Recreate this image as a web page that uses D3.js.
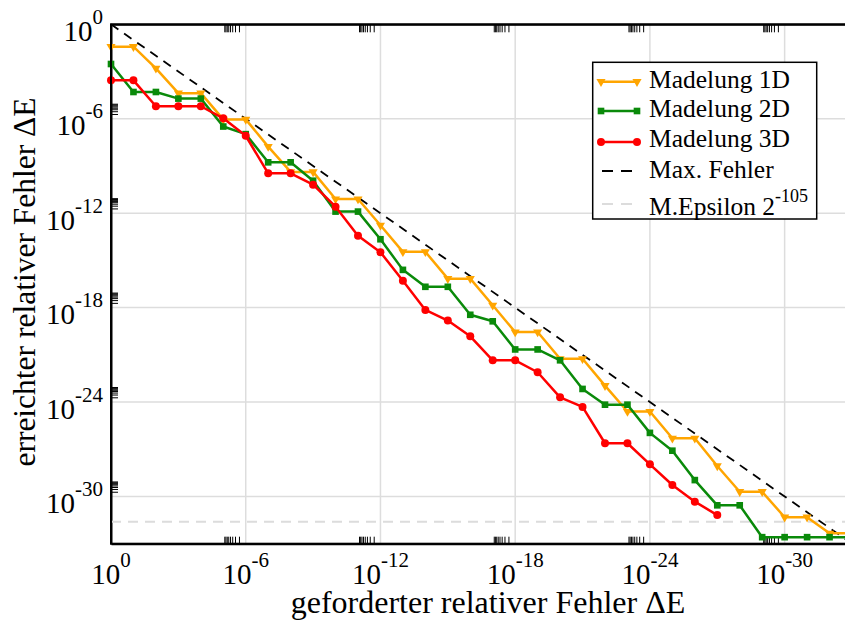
<!DOCTYPE html>
<html>
<head>
<meta charset="utf-8">
<script src="https://cdn.jsdelivr.net/npm/d3@7"></script>
<style>
  body { margin: 0; background: #fff; }
  svg { display: block; font-family: "Liberation Serif", "DejaVu Serif", serif; }
</style>
</head>
<body>
<svg id="chart" width="845" height="621"></svg>
<script>
// requested relative error: one point per decade, 10^0 ... 10^-33
var requested = d3.range(0, 34).map(function(i) { return Math.pow(10, -i); });

var madelung1D = [3.8e-2, 3.8e-2, 1.6e-3, 4.2e-5, 4.2e-5, 9.1e-7, 9.1e-7, 1.7e-8, 4.2e-10, 4.2e-10,
                  7.9e-12, 7.9e-12, 1.7e-13, 3.5e-15, 3.5e-15, 6.9e-17, 6.9e-17, 1.4e-18, 2.8e-20, 2.8e-20,
                  5.6e-22, 5.6e-22, 1.1e-23, 2.5e-25, 2.5e-25, 5.0e-27, 5.0e-27, 8.7e-29, 2.0e-30, 2.0e-30,
                  4.8e-32, 4.8e-32, 4.6e-33, 4.6e-33];
var madelung2D = [3.0e-3, 5.0e-5, 5.0e-5, 1.9e-5, 1.9e-5, 3.2e-7, 1.05e-7, 1.7e-9, 1.7e-9, 1.15e-10,
                  1.26e-12, 1.26e-12, 2.2e-14, 2.5e-16, 2.1e-17, 2.1e-17, 3.5e-19, 1.35e-19, 2.2e-21, 2.2e-21,
                  4.5e-22, 6.8e-24, 6.8e-25, 6.8e-25, 1.1e-26, 8.1e-28, 1.1e-29, 2.75e-31, 2.75e-31, 2.6e-33,
                  2.6e-33, 2.6e-33, 2.6e-33, 2.6e-33];
var madelung3D = [2.75e-4, 2.75e-4, 6.2e-6, 6.2e-6, 6.2e-6, 1.07e-6, 8.3e-8, 3.4e-10, 3.4e-10, 6.5e-11,
                  2.6e-12, 3.7e-14, 3.3e-15, 5.1e-17, 7.1e-19, 1.5e-19, 1.5e-20, 4.5e-22, 4.5e-22, 7.8e-23,
                  2.0e-24, 4.9e-25, 2.4e-27, 2.4e-27, 1.1e-28, 5.4e-30, 4.7e-31, 6.6e-32];

var majorExps = [0, -6, -12, -18, -24, -30];
var machineEps = Math.pow(2, -105);

var seriesNames = ["Madelung 1D", "Madelung 2D", "Madelung 3D"];
var seriesColors = ["#ffa500", "#0a8a0a", "#ff0000"];
var seriesSymbols = [d3.symbolTriangle, d3.symbolSquare, d3.symbolCircle];

var pLeft = 111, pTop = 24.3, pRight = 852, pBottom = 543.7;

var svg = d3.select("#chart");

var x = d3.scaleLog().domain([1, 1e-33]).range([pLeft, pRight]);
var y = d3.scaleLog().domain([1, 1e-33]).range([pTop, pBottom]);

var majors = majorExps.map(function(e) { return Math.pow(10, e); });
var minors = [];
majorExps.slice(1).forEach(function(e) {
    for (var k = 2; k <= 9; k++) minors.push(k * Math.pow(10, e));
});

// grid
var grid = svg.append("g").attr("class", "grid");
grid.selectAll("line.gx")
    .data(majors.slice(1))
    .enter().append("line")
    .attr("x1", function(d) { return x(d); })
    .attr("x2", function(d) { return x(d); })
    .attr("y1", pTop).attr("y2", pBottom)
    .attr("stroke", "#dddddd").attr("stroke-width", 1.5);
grid.selectAll("line.gy")
    .data(majors.slice(1))
    .enter().append("line")
    .attr("y1", function(d) { return y(d); })
    .attr("y2", function(d) { return y(d); })
    .attr("x1", pLeft).attr("x2", pRight)
    .attr("stroke", "#dddddd").attr("stroke-width", 1.5);

// minor ticks via d3 axes
function styleAxis(g) {
    g.select(".domain").attr("stroke", "#000").attr("stroke-width", 2);
    g.selectAll(".tick line").attr("stroke", "#000").attr("stroke-width", 1);
}
svg.append("g")
    .attr("transform", "translate(0," + pBottom + ")")
    .call(d3.axisBottom(x).tickValues(minors).tickSize(-7).tickSizeOuter(0).tickFormat(""))
    .call(styleAxis);
svg.append("g")
    .attr("transform", "translate(0," + pTop + ")")
    .call(d3.axisTop(x).tickValues(minors).tickSize(-8).tickSizeOuter(0).tickFormat(""))
    .call(styleAxis);
svg.append("g")
    .attr("transform", "translate(" + pLeft + ",0)")
    .call(d3.axisLeft(y).tickValues(minors).tickSize(-7).tickSizeOuter(0).tickFormat(""))
    .call(styleAxis);
svg.append("g")
    .attr("transform", "translate(" + pRight + ",0)")
    .call(d3.axisRight(y).tickValues(minors).tickSize(-7).tickSizeOuter(0).tickFormat(""))
    .call(styleAxis);

// tick labels 10^n
function powLabel(sel, e) {
    sel.append("tspan").attr("font-size", 29).text("10");
    sel.append("tspan").attr("font-size", 21).attr("dy", -17).text(e === 0 ? "0" : "-" + (-e));
}
majorExps.forEach(function(e) {
    svg.append("text")
        .attr("x", x(Math.pow(10, e)))
        .attr("y", 584)
        .attr("text-anchor", "middle")
        .call(powLabel, e);
    svg.append("text")
        .attr("x", 103)
        .attr("y", y(Math.pow(10, e)) + 16.6)
        .attr("text-anchor", "end")
        .call(powLabel, e);
});

// axis titles
svg.append("text")
    .attr("x", 488).attr("y", 613)
    .attr("text-anchor", "middle")
    .attr("font-size", 32)
    .text("geforderter relativer Fehler \u0394E");
svg.append("text")
    .attr("transform", "translate(35,282) rotate(-90)")
    .attr("text-anchor", "middle")
    .attr("font-size", 31.5)
    .text("erreichter relativer Fehler \u0394E");

var plot = svg.append("g");

// machine epsilon
plot.append("line")
    .attr("x1", pLeft).attr("x2", pRight)
    .attr("y1", y(machineEps)).attr("y2", y(machineEps))
    .attr("stroke", "#dcdcdc").attr("stroke-width", 2)
    .attr("stroke-dasharray", "10,7");

// max error y = x
plot.append("line")
    .attr("x1", x(1)).attr("y1", y(1))
    .attr("x2", x(1e-33)).attr("y2", y(1e-33))
    .attr("stroke", "#000").attr("stroke-width", 1.8)
    .attr("stroke-dasharray", "9,7");

var line = d3.line()
    .x(function(d) { return x(d[0]); })
    .y(function(d) { return y(d[1]); });

function symbolFor(i) {
    var sizes = [36, 44, 50];
    return d3.symbol().type(seriesSymbols[i]).size(sizes[i]);
}

[madelung1D, madelung2D, madelung3D].forEach(function(vals, i) {
    var pts = vals.map(function(v, j) { return [requested[j], v]; });
    plot.append("path")
        .datum(pts)
        .attr("fill", "none")
        .attr("stroke", seriesColors[i])
        .attr("stroke-width", 2.5)
        .attr("stroke-linejoin", "round")
        .attr("d", line);
    plot.selectAll("path.m" + i)
        .data(pts)
        .enter().append("path")
        .attr("class", "m" + i)
        .attr("d", symbolFor(i))
        .attr("fill", seriesColors[i])
        .attr("transform", function(d) {
            return "translate(" + x(d[0]) + "," + y(d[1]) + ")" + (i === 0 ? " rotate(180)" : "");
        });
});

// frame on top
svg.append("rect")
    .attr("x", pLeft).attr("y", pTop)
    .attr("width", pRight - pLeft).attr("height", pBottom - pTop)
    .attr("fill", "none").attr("stroke", "#000").attr("stroke-width", 2);

// legend
var legend = svg.append("g");
legend.append("rect")
    .attr("x", 592.7).attr("y", 62.3)
    .attr("width", 224).attr("height", 156.7)
    .attr("fill", "#fff").attr("stroke", "#000").attr("stroke-width", 1.5);

var rowY = [81.7, 111, 142, 171, 204];
var textDy = [6, 6, 5, 7, 11];
seriesNames.forEach(function(name, i) {
    legend.append("line")
        .attr("x1", 601).attr("x2", 637)
        .attr("y1", rowY[i]).attr("y2", rowY[i])
        .attr("stroke", seriesColors[i]).attr("stroke-width", 2.5);
    [601, 637].forEach(function(px) {
        legend.append("path")
            .attr("d", symbolFor(i))
            .attr("fill", seriesColors[i])
            .attr("transform", "translate(" + px + "," + rowY[i] + ")" + (i === 0 ? " rotate(180)" : ""));
    });
    legend.append("text")
        .attr("x", 649).attr("y", rowY[i] + textDy[i])
        .attr("font-size", 25.5)
        .text(name);
});
legend.append("line")
    .attr("x1", 602).attr("x2", 637)
    .attr("y1", rowY[3]).attr("y2", rowY[3])
    .attr("stroke", "#000").attr("stroke-width", 1.8)
    .attr("stroke-dasharray", "11,8");
legend.append("text")
    .attr("x", 649).attr("y", rowY[3] + textDy[3])
    .attr("font-size", 25.5)
    .text("Max. Fehler");
legend.append("line")
    .attr("x1", 602).attr("x2", 637)
    .attr("y1", rowY[4]).attr("y2", rowY[4])
    .attr("stroke", "#dcdcdc").attr("stroke-width", 2)
    .attr("stroke-dasharray", "11,8");
var eps = legend.append("text")
    .attr("x", 649).attr("y", rowY[4] + textDy[4])
    .attr("font-size", 25.5);
eps.append("tspan").text("M.Epsilon 2");
eps.append("tspan").attr("font-size", 18).attr("dy", -13).text("-105");
</script>
</body>
</html>
